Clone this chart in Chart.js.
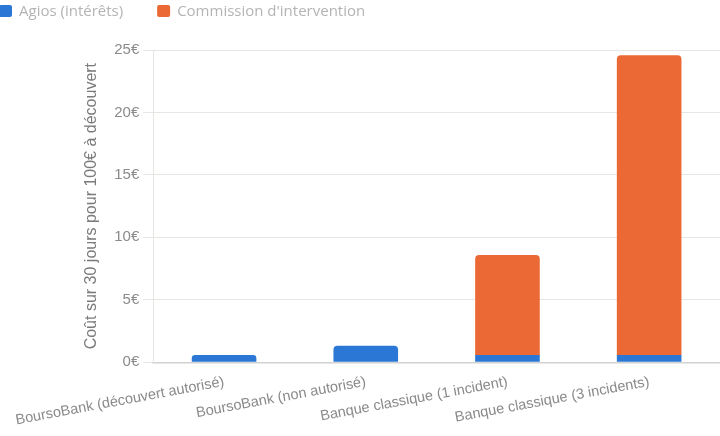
<!DOCTYPE html>
<html>
<head>
<meta charset="utf-8">
<script src="https://cdn.jsdelivr.net/npm/chart.js@4.4.1/dist/chart.umd.min.js"></script>
<style>
    html, body { margin: 0; padding: 0; background: #fff; overflow: hidden; }
    #wrap { width: 720px; height: 436px; position: relative; }
</style>
</head>
<body>
<div id="wrap"><canvas id="costChart" width="720" height="436"></canvas></div>
<script>
// ─── Data ───
const categories = [
    'BoursoBank (découvert autorisé)',
    'BoursoBank (non autorisé)',
    'Banque classique (1 incident)',
    'Banque classique (3 incidents)'
];
const agios = [0.58, 1.33, 0.58, 0.58];
const commission = [0, 0, 8, 24];
const yTicks = [0, 5, 10, 15, 20, 25];

// ─── Legend drawn at top-left (tight spacing like the original) ───
const topLegend = {
    id: 'topLegend',
    afterDraw(chart) {
        const ctx = chart.ctx;
        ctx.save();
        ctx.font = '15px "Open Sans"';
        ctx.textBaseline = 'middle';
        let x = -1;
        chart.data.datasets.forEach(ds => {
            ctx.fillStyle = ds.backgroundColor;
            ctx.beginPath();
            ctx.roundRect(x, 5, 13, 12, 2);
            ctx.fill();
            ctx.fillStyle = '#b4b4b4';
            ctx.fillText(ds.label, x + 20, 11.5);
            x += 20 + ctx.measureText(ds.label).width + 34;
        });
        ctx.restore();
    }
};

const ctx = document.getElementById('costChart').getContext('2d');
new Chart(ctx, {
    type: 'bar',
    data: {
        labels: categories,
        datasets: [
            {
                label: 'Agios (intérêts)',
                data: agios,
                backgroundColor: '#2A77D6',
                borderRadius: 4,
                barPercentage: 0.57,
                categoryPercentage: 0.8
            },
            {
                label: "Commission d'intervention",
                data: commission,
                backgroundColor: '#EB6934',
                borderRadius: 4,
                barPercentage: 0.57,
                categoryPercentage: 0.8
            }
        ]
    },
    options: {
        responsive: false,
        animation: false,
        layout: { padding: { top: 50, left: 80, right: 0, bottom: 4 } },
        scales: {
            x: {
                stacked: true,
                grid: { display: false },
                border: { color: '#d2d2d2', width: 1.5 },
                // let the long first label run into the left margin
                afterFit: scale => { scale.paddingLeft = 0; },
                ticks: {
                    minRotation: 10.5,
                    maxRotation: 10.5,
                    color: '#8a8a8a',
                    font: { family: '"Liberation Sans", Arial', size: 14.5 }
                }
            },
            y: {
                stacked: true,
                min: 0,
                max: 25,
                afterBuildTicks: scale => { scale.ticks = yTicks.map(v => ({ value: v })); },
                grid: { color: '#e6e6e2', tickLength: 10 },
                border: { color: '#e6e6e2' },
                ticks: {
                    padding: 4,
                    color: '#8a8a8a',
                    font: { family: '"Liberation Sans", Arial', size: 15 },
                    callback: v => v + '€'
                },
                title: {
                    display: true,
                    text: 'Coût sur 30 jours pour 100€ à découvert',
                    color: '#7a7a7a',
                    padding: { top: 2, bottom: 9 },
                    font: { family: '"Liberation Sans", Arial', size: 16 }
                }
            }
        },
        plugins: {
            legend: { display: false },
            tooltip: { enabled: false }
        }
    },
    plugins: [topLegend]
});
</script>
</body>
</html>
